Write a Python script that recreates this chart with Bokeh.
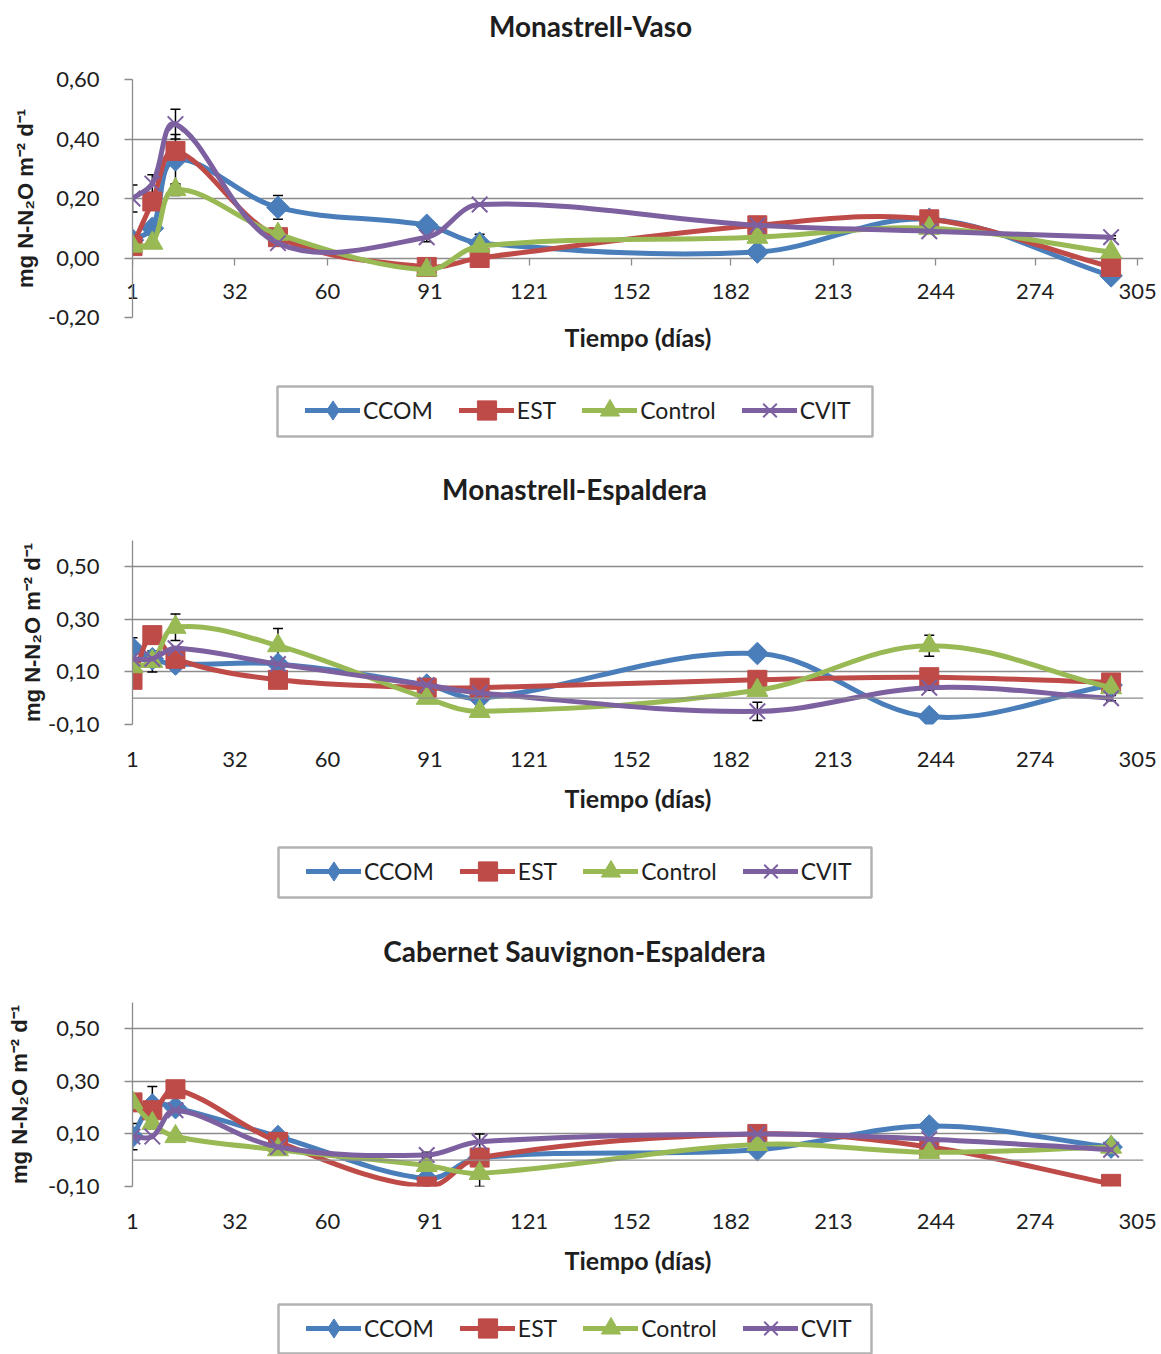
from bokeh.plotting import figure
from bokeh.models import (FixedTicker, CustomJSTickFormatter, LinearAxis, Span, Label,
                          Legend, LegendItem, Whisker, ColumnDataSource, TeeHead, Range1d,
                          BoxAnnotation)
from bokeh.layouts import column
from bokeh.embed import file_html
from bokeh.resources import INLINE
import math

# ---------------- data ----------------
days = [1, 7, 14, 45, 90, 106, 190, 242, 297]
x_ticks = [1, 32, 60, 91, 121, 152, 182, 213, 244, 274, 305]
series_names = ["CCOM", "EST", "Control", "CVIT"]

chart_titles = ["Monastrell-Vaso", "Monastrell-Espaldera", "Cabernet Sauvignon-Espaldera"]
x_title = "Tiempo (días)"
y_title = "mg N-N\u2082O m\u207b\u00b2 d\u207b\u00b9"

# Monastrell-Vaso
vaso_ccom = [0.06, 0.10, 0.33, 0.17, 0.11, 0.05, 0.02, 0.13, -0.06]
vaso_est = [0.04, 0.19, 0.36, 0.07, -0.03, 0.00, 0.11, 0.13, -0.03]
vaso_control = [0.04, 0.05, 0.23, 0.08, -0.04, 0.04, 0.07, 0.10, 0.02]
vaso_cvit = [0.20, 0.25, 0.45, 0.05, 0.07, 0.18, 0.11, 0.09, 0.07]
vaso_ccom_err = [0, 0, 0.085, 0.04, 0.01, 0.03, 0, 0, 0]
vaso_est_err = [0, 0, 0, 0, 0, 0, 0, 0, 0]
vaso_control_err = [0, 0.01, 0.02, 0, 0, 0, 0, 0, 0]
vaso_cvit_err = [0.045, 0.03, 0.05, 0, 0.015, 0, 0, 0, 0.005]

# Monastrell-Espaldera
esp_ccom = [0.19, 0.15, 0.13, 0.13, 0.05, 0.00, 0.17, -0.07, 0.05]
esp_est = [0.07, 0.24, 0.15, 0.07, 0.04, 0.04, 0.07, 0.08, 0.06]
esp_control = [0.12, 0.14, 0.27, 0.20, 0.00, -0.05, 0.03, 0.20, 0.04]
esp_cvit = [0.15, 0.15, 0.19, 0.13, 0.05, 0.02, -0.05, 0.04, 0.00]
esp_ccom_err = [0.04, 0, 0, 0, 0, 0, 0, 0, 0]
esp_est_err = [0, 0, 0, 0, 0, 0, 0, 0, 0]
esp_control_err = [0, 0.04, 0.05, 0.065, 0, 0, 0, 0.04, 0]
esp_cvit_err = [0, 0, 0, 0, 0, 0, 0.035, 0.01, 0.01]

# Cabernet Sauvignon-Espaldera
cab_ccom = [0.09, 0.21, 0.20, 0.09, -0.07, 0.01, 0.04, 0.13, 0.05]
cab_est = [0.22, 0.19, 0.27, 0.07, -0.10, 0.01, 0.10, 0.05, -0.09]
cab_control = [0.22, 0.14, 0.09, 0.04, -0.02, -0.05, 0.06, 0.03, 0.05]
cab_cvit = [0.09, 0.09, 0.19, 0.05, 0.02, 0.07, 0.10, 0.08, 0.04]
cab_ccom_err = [0.05, 0.07, 0, 0, 0, 0, 0, 0, 0]
cab_est_err = [0, 0, 0, 0, 0, 0, 0, 0, 0]
cab_control_err = [0, 0, 0.015, 0, 0, 0.05, 0, 0, 0]
cab_cvit_err = [0, 0, 0, 0, 0.01, 0.03, 0, 0, 0]

# ---------------- styles / layout ----------------
COLORS = ["#4A7EBB", "#BE4B48", "#98B954", "#7D60A0"]
GRID = "#8c8c8c"
TXT = "#1e1e1e"
FONT = "Lato"
W = 1161
LEFT, RIGHT = 132, 1143          # frame edges (page pixels), shared by all rows
X_MAX = 306.8
MARKERS = [("square", 16, math.pi / 4), ("square", 19, 0.0),
           ("triangle", 21, 0.0), ("x", 22, 0.0)]
LEGEND_MARKERS = ["diamond", "square", "triangle", "x"]
LINE_W = 5
NAN = float("nan")


def smooth_segments(xs, ys, sx, sy, t=0.36):
    """Bezier control points for an Excel-like smoothed line (chord-length scaled)."""
    n = len(xs)
    px = [xs[0]] + list(xs) + [xs[-1]]
    py = [ys[0]] + list(ys) + [ys[-1]]

    def dist(a, b):
        return math.hypot((px[a] - px[b]) * sx, (py[a] - py[b]) * sy)

    seg = dict(x0=[], y0=[], x1=[], y1=[], cx0=[], cy0=[], cx1=[], cy1=[])
    for i in range(n - 1):
        j = i + 1
        d_prev, d_cur, d_next = dist(j - 1, j), dist(j, j + 1), dist(j + 1, j + 2)
        fb = t * d_cur / (d_prev + d_cur) if d_prev + d_cur > 0 else 0
        fa = t * d_cur / (d_cur + d_next) if d_cur + d_next > 0 else 0
        seg["x0"].append(px[j]); seg["y0"].append(py[j])
        seg["x1"].append(px[j + 1]); seg["y1"].append(py[j + 1])
        seg["cx0"].append(px[j] + fb * (px[j + 1] - px[j - 1]))
        seg["cy0"].append(py[j] + fb * (py[j + 1] - py[j - 1]))
        seg["cx1"].append(px[j + 1] - fa * (px[j + 2] - px[j]))
        seg["cy1"].append(py[j + 1] - fa * (py[j + 2] - py[j]))
    return seg


def bare_figure(height):
    # frame is aligned with the chart frames by the column layout (LEFT..RIGHT),
    # ranges map 1:1 onto page pixels (y measured downward from the row's top)
    p = figure(width=W, height=height, output_backend="svg", toolbar_location=None,
               x_axis_location=None, y_axis_location=None,
               x_range=Range1d(LEFT, RIGHT), y_range=Range1d(height, 0),
               min_border_left=LEFT, min_border_right=W - RIGHT, min_border_top=0,
               min_border_bottom=0)
    p.outline_line_color = None
    p.grid.visible = False
    p.background_fill_color = "white"
    p.border_fill_color = "white"
    return p


def title_figure(text, cx, cy, height):
    p = bare_figure(height)
    p.add_layout(Label(x=cx, y=cy, text=text, text_align="center",
                       text_baseline="middle", text_font=FONT, text_font_style="bold",
                       text_font_size="28px", text_color=TXT))
    return p


def legend_figure(height, box_left, box_right, box_top, box_bottom):
    p = bare_figure(height)
    p.add_layout(BoxAnnotation(left=box_left, right=box_right, top=box_top,
                               bottom=box_bottom, fill_color="white", fill_alpha=1.0,
                               line_color="black", line_width=2.5))
    items = []
    for k, name in enumerate(series_names):
        c = COLORS[k]
        proxy = p.line(x=[NAN], y=[NAN], line_color=c, line_width=LINE_W, line_cap="round")
        m = LEGEND_MARKERS[k]
        if m == "x":
            r = p.scatter(x=[NAN], y=[NAN], marker=m, size=10, line_color=c,
                          line_width=2)
        else:
            r = p.scatter(x=[NAN], y=[NAN], marker=m, size=10, fill_color=c,
                          line_color=c, line_width=1)
        items.append(LegendItem(label=name, renderers=[proxy, r]))
    pad, gh = 7, 48
    leg_h = gh + 2 * pad
    leg_bottom = (box_top + box_bottom) / 2 + leg_h / 2 - 8
    legend = Legend(items=items, orientation="horizontal",
                    location=(box_left + 28 - LEFT, height - leg_bottom),
                    border_line_color=None, background_fill_alpha=0.0,
                    padding=pad, spacing=26, margin=0, glyph_width=55, glyph_height=gh,
                    label_standoff=3, label_text_font=FONT, label_text_font_size="23px",
                    label_text_color=TXT)
    p.add_layout(legend, "center")
    return p


def main_figure(series, errors, y_min, y_ticks, height, frame_top, frame_bottom,
                labels_on_zero, ylab_standoff):
    p = figure(width=W, height=height, output_backend="svg", toolbar_location=None,
               x_range=Range1d(1, X_MAX), y_range=Range1d(y_min, 0.6),
               min_border_left=LEFT, min_border_right=W - RIGHT,
               min_border_top=frame_top, min_border_bottom=height - frame_bottom)
    p.outline_line_color = None
    p.background_fill_color = "white"
    p.border_fill_color = "white"
    p.xgrid.visible = False
    p.ygrid.ticker = FixedTicker(ticks=y_ticks)
    p.ygrid.grid_line_color = GRID
    p.ygrid.grid_line_width = 1.3

    sx = (RIGHT - LEFT) / (X_MAX - 1)
    sy = (frame_bottom - frame_top) / (0.6 - y_min)

    ya = p.yaxis[0]
    ya.ticker = FixedTicker(ticks=y_ticks)
    ya.formatter = CustomJSTickFormatter(code="return tick.toFixed(2).replace('.', ',');")
    ya.axis_line_color = GRID
    ya.axis_line_width = 1.3
    ya.major_tick_line_color = GRID
    ya.major_tick_line_width = 1.3
    ya.major_tick_out = 8
    ya.major_tick_in = 0
    ya.minor_tick_line_color = None
    ya.major_label_standoff = 25
    ya.major_label_text_font = FONT
    ya.major_label_text_font_size = "22px"
    ya.major_label_text_color = TXT
    ya.axis_label = y_title
    ya.axis_label_text_font = "Liberation Sans"
    ya.axis_label_text_font_style = "bold"
    ya.axis_label_text_font_size = "22px"
    ya.axis_label_text_color = TXT
    ya.axis_label_standoff = ylab_standoff

    xa = p.xaxis[0]
    xa.ticker = FixedTicker(ticks=x_ticks)
    xa.axis_line_color = None
    xa.major_tick_line_color = None
    xa.minor_tick_line_color = None
    xa.major_tick_out = 0
    xa.major_tick_in = 0
    xa.axis_label = x_title
    xa.axis_label_text_font = FONT
    xa.axis_label_text_font_style = "bold"
    xa.axis_label_text_font_size = "25px"
    xa.axis_label_text_color = TXT
    xa.major_label_text_font = FONT
    xa.major_label_text_font_size = "22px"
    xa.major_label_text_color = TXT
    if labels_on_zero:
        xa.major_label_standoff = -34
        xa.axis_label_standoff = 20
        xz = LinearAxis(fixed_location=0, ticker=FixedTicker(ticks=x_ticks),
                        formatter=CustomJSTickFormatter(code="return '';"),
                        axis_line_color=None, major_tick_line_color=GRID,
                        major_tick_line_width=1.3, major_tick_out=7, major_tick_in=0,
                        minor_tick_line_color=None)
        p.add_layout(xz, "below")
    else:
        xa.major_label_standoff = 27
        xa.axis_label_standoff = 13
        p.add_layout(Span(location=0, dimension="width", line_color=GRID, line_width=1.3))

    for k, ys in enumerate(series):
        c = COLORS[k]
        seg = smooth_segments(days, ys, sx, sy)
        p.bezier(x0="x0", y0="y0", x1="x1", y1="y1", cx0="cx0", cy0="cy0",
                 cx1="cx1", cy1="cy1", source=ColumnDataSource(seg),
                 line_color=c, line_width=LINE_W, line_cap="round")
        m, s, ang = MARKERS[k]
        if m == "x":
            p.scatter(days, ys, marker=m, size=s, angle=ang, line_color=c, line_width=2)
        else:
            p.scatter(days, ys, marker=m, size=s, angle=ang, fill_color=c,
                      line_color=c, line_width=1)

    for ys, es in zip(series, errors):
        idx = [i for i, e in enumerate(es) if e > 0]
        if not idx:
            continue
        src = ColumnDataSource(dict(
            x=[days[i] for i in idx],
            upper=[ys[i] + es[i] for i in idx],
            lower=[ys[i] - es[i] for i in idx]))
        p.add_layout(Whisker(base="x", upper="upper", lower="lower", source=src,
                             dimension="height", line_color="black", line_width=1.5,
                             upper_head=TeeHead(size=10, line_color="black", line_width=1.5),
                             lower_head=TeeHead(size=10, line_color="black", line_width=1.5)))
    return p


# chart 1 (page rows 0-463)
h1 = title_figure(chart_titles[0], 590, 25, 60)
m1 = main_figure([vaso_ccom, vaso_est, vaso_control, vaso_cvit],
                 [vaso_ccom_err, vaso_est_err, vaso_control_err, vaso_cvit_err],
                 -0.2, [-0.2, 0.0, 0.2, 0.4, 0.6], 310, 19, 257, True, 7)
l1 = legend_figure(93, 277, 872, 16, 66)

# chart 2 (page rows 463-925)
h2 = title_figure(chart_titles[1], 574, 25, 60)
m2 = main_figure([esp_ccom, esp_est, esp_control, esp_cvit],
                 [esp_ccom_err, esp_est_err, esp_control_err, esp_cvit_err],
                 -0.1, [-0.1, 0.1, 0.3, 0.5], 307, 17, 201, False, 0)
l2 = legend_figure(95, 278, 871, 17, 67)

# chart 3 (page rows 925-1354)
h3 = title_figure(chart_titles[2], 574, 25, 60)
m3 = main_figure([cab_ccom, cab_est, cab_control, cab_cvit],
                 [cab_ccom_err, cab_est_err, cab_control_err, cab_cvit_err],
                 -0.1, [-0.1, 0.1, 0.3, 0.5], 305, 17, 201, False, 13)
l3 = legend_figure(64, 278, 871, 14, 63)

layout = column(h1, m1, l1, h2, m2, l2, h3, m3, l3, spacing=0)
open("out.html", "w").write(file_html(layout, INLINE))
